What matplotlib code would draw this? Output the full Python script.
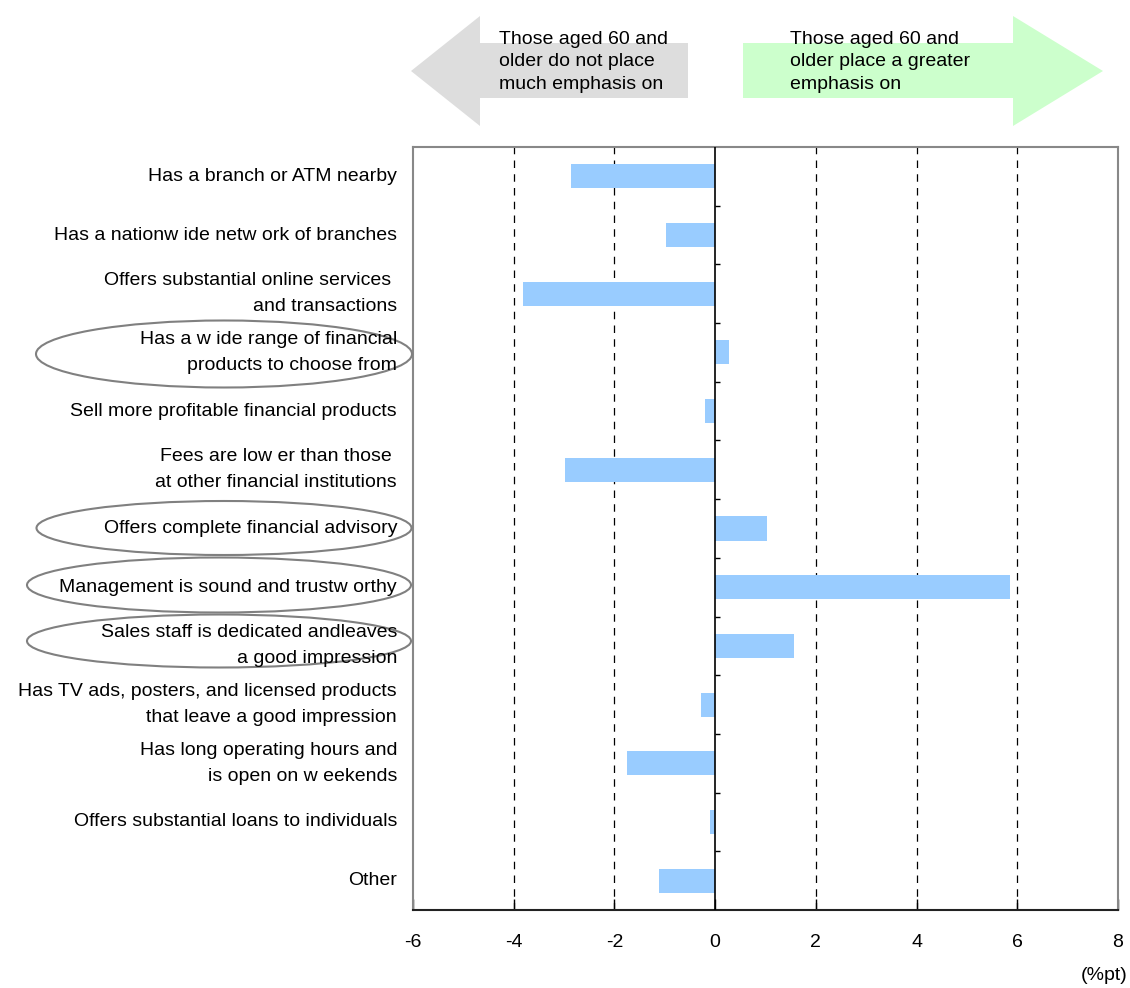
import matplotlib
matplotlib.use("Agg")
import matplotlib.pyplot as plt
from matplotlib.patches import Polygon, Ellipse
import matplotlib.transforms as mtransforms

plt.rcParams['font.family'] = ['Liberation Sans', 'DejaVu Sans']

categories = [
    "Has a branch or ATM nearby",
    "Has a nationw ide netw ork of branches",
    "Offers substantial online services \nand transactions",
    "Has a w ide range of financial\nproducts to choose from",
    "Sell more profitable financial products",
    "Fees are low er than those \nat other financial institutions",
    "Offers complete financial advisory",
    "Management is sound and trustw orthy",
    "Sales staff is dedicated andleaves\na good impression",
    "Has TV ads, posters, and licensed products\nthat leave a good impression",
    "Has long operating hours and\nis open on w eekends",
    "Offers substantial loans to individuals",
    "Other",
]
diff_pt = [-2.87, -0.97, -3.82, 0.28, -0.20, -2.99, 1.03, 5.86, 1.56, -0.28, -1.76, -0.10, -1.11]
circled = [3, 6, 7, 8]
xticks = [-6, -4, -2, 0, 2, 4, 6, 8]

W, H = 1130, 988
FS = 14
fig = plt.figure(figsize=(W / 100, H / 100), dpi=100)
ax = fig.add_axes([413 / W, 1 - 910 / H, (1118 - 413) / W, (910 - 147) / H])

ypos = list(range(len(categories)))
ax.barh(ypos, diff_pt, height=0.41, color='#99CCFF', zorder=3)
ax.set_xlim(-6, 8)
ax.set_ylim(len(categories) - 0.5, -0.5)

# dashed gridlines and the zero axis
for x in xticks[1:-1]:
    if x == 0:
        ax.axvline(0, color='black', lw=1.2, zorder=4)
    else:
        ax.axvline(x, color='black', lw=0.9, ls=(0, (6, 5)), zorder=1)

# category separator ticks on the zero axis
bounds = [i + 0.5 for i in ypos[:-1]]
ax.hlines(bounds, 0, 0.1, color='black', lw=1, zorder=4)

ax.set_xticks(xticks)
ax.set_xticklabels([str(x) for x in xticks], fontsize=FS)
ax.tick_params(axis='x', direction='in', length=8, pad=17, width=1)
ax.set_yticks([])

for side in ['left', 'top', 'right']:
    ax.spines[side].set_color('#888888')
    ax.spines[side].set_linewidth(1.5)
ax.spines['bottom'].set_color('#222222')
ax.spines['bottom'].set_linewidth(1.5)

fig.text(1128 / W, 1 - 975 / H, "(%pt)", ha='right', va='center', fontsize=FS)

# category labels to the left of the plot area
lab_tr = mtransforms.blended_transform_factory(fig.transFigure, ax.transData)
for i, lab in zip(ypos, categories):
    fig.text(397 / W, i, lab, transform=lab_tr, ha='right', va='center',
             fontsize=FS, linespacing=1.7)

# ovals around highlighted labels
oval_specs = {3: (224, 354, 376, 67), 6: (224, 528, 375, 54),
              7: (219, 585, 384, 55), 8: (219, 641, 384, 53)}
for i in circled:
    cx, cy, w, h = oval_specs[i]
    e = Ellipse((cx / W, 1 - cy / H), w / W, h / H, transform=fig.transFigure,
                fill=False, edgecolor='#808080', lw=1.5)
    fig.patches.append(e)

# header arrows
def px(x, y):
    return (x / W, 1 - y / H)

left_arrow = Polygon([px(411, 71), px(480, 16), px(480, 43), px(688, 43),
                      px(688, 98), px(480, 98), px(480, 126)],
                     closed=True, transform=fig.transFigure,
                     facecolor='#DDDDDD', edgecolor='none')
right_arrow = Polygon([px(1103, 71), px(1013, 16), px(1013, 43), px(743, 43),
                       px(743, 98), px(1013, 98), px(1013, 126)],
                      closed=True, transform=fig.transFigure,
                      facecolor='#CCFFCC', edgecolor='none')
fig.patches.extend([left_arrow, right_arrow])

fig.text(499 / W, 1 - 62 / H, "Those aged 60 and\nolder do not place\nmuch emphasis on",
         ha='left', va='center', fontsize=FS, linespacing=1.45)
fig.text(790 / W, 1 - 62 / H, "Those aged 60 and\nolder place a greater\nemphasis on",
         ha='left', va='center', fontsize=FS, linespacing=1.45)

fig.savefig("out.png", dpi=100, facecolor='white')
